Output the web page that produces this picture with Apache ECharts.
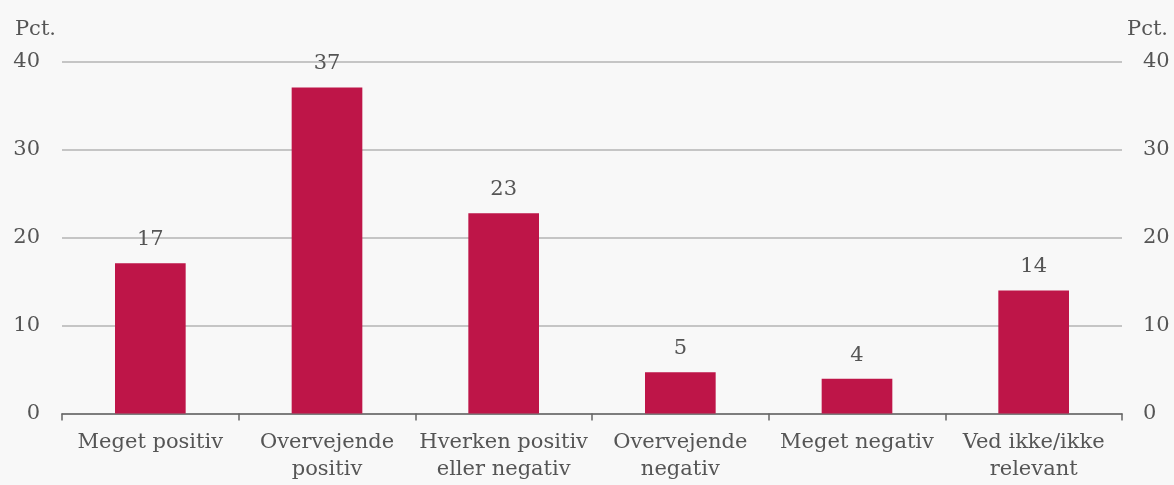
<!DOCTYPE html>
<html>
<head>
<meta charset="utf-8">
<script src="https://cdn.jsdelivr.net/npm/echarts@6/dist/echarts.min.js"></script>
<style>
html,body{margin:0;padding:0;background:#f8f8f8;}
#chart{width:1174px;height:485px;}
</style>
</head>
<body>
<div id="chart"></div>
<script>
const categories = ["Meget positiv", "Overvejende\npositiv", "Hverken positiv\neller negativ", "Overvejende\nnegativ", "Meget negativ", "Ved ikke/ikke\nrelevant"];
const values = [17.1, 37.1, 22.8, 4.7, 3.95, 14.0];
const yTicks = { min: 0, max: 40, interval: 10 };
const unitLabel = "Pct.";

const FONT = "DejaVu Serif";
const FS = 21;
const TXT = "#555555";
const chart = echarts.init(document.getElementById('chart'), null, { renderer: 'canvas' });

const yAxisBase = {
  type: 'value', min: yTicks.min, max: yTicks.max, interval: yTicks.interval,
  axisLine: { show: false }, axisTick: { show: false },
  splitLine: { show: true, lineStyle: { color: '#b4b4b4', width: 1.5 } },
  axisLabel: { color: TXT, fontFamily: FONT, fontSize: FS, margin: 22 },
  name: unitLabel, nameLocation: 'end', nameGap: 22
};

chart.setOption({
  backgroundColor: '#f8f8f8',
  animation: false,
  grid: { left: 62, right: 52, top: 62, bottom: 71.5, containLabel: false },
  xAxis: {
    type: 'category', data: categories,
    axisLine: { show: true, lineStyle: { color: '#666666', width: 1.5 } },
    axisTick: { show: true, alignWithLabel: false, length: 7, lineStyle: { color: '#666666', width: 1.5 } },
    axisLabel: { color: TXT, fontFamily: FONT, fontSize: FS, lineHeight: 27, margin: 16, interval: 0 }
  },
  yAxis: [
    Object.assign({}, yAxisBase, {
      position: 'left',
      axisLabel: Object.assign({}, yAxisBase.axisLabel, { align: 'right' }),
      nameTextStyle: { color: TXT, fontFamily: FONT, fontSize: FS, align: 'right', padding: [0, 6, 0, 0] }
    }),
    Object.assign({}, yAxisBase, {
      position: 'right',
      splitLine: { show: false },
      axisLabel: Object.assign({}, yAxisBase.axisLabel, { align: 'left', margin: 21 }),
      nameTextStyle: { color: TXT, fontFamily: FONT, fontSize: FS, align: 'left', padding: [0, 0, 0, 5] }
    })
  ],
  series: [{
    type: 'bar', data: values, barWidth: '40%', yAxisIndex: 0,
    itemStyle: { color: '#be1548' },
    label: {
      show: true, position: 'top', distance: 13, color: TXT, fontFamily: FONT, fontSize: FS,
      formatter: p => Math.round(p.value)
    }
  }]
});
</script>
</body>
</html>
